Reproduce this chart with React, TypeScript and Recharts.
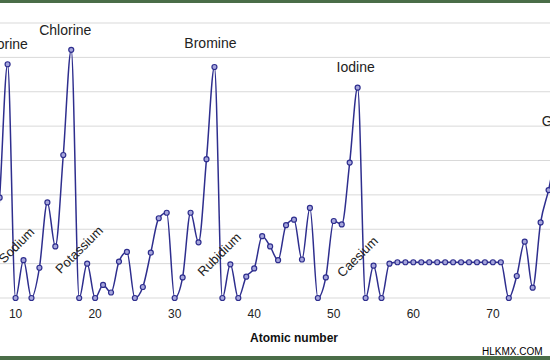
import { LineChart, Line, XAxis, YAxis, CartesianGrid, LabelList } from 'recharts';

// Electron affinity (eV) against atomic number
const ATOMIC_NUMBERS = [
    1, 2, 3, 4, 5, 6, 7, 8, 9, 10,
    11, 12, 13, 14, 15, 16, 17, 18, 19, 20,
    21, 22, 23, 24, 25, 26, 27, 28, 29, 30,
    31, 32, 33, 34, 35, 36, 37, 38, 39, 40,
    41, 42, 43, 44, 45, 46, 47, 48, 49, 50,
    51, 52, 53, 54, 55, 56, 57, 58, 59, 60,
    61, 62, 63, 64, 65, 66, 67, 68, 69, 70,
    71, 72, 73, 74, 75, 76, 77, 78, 79,
];

const AFFINITY = [
    0.75, 0, 0.62, 0, 0.28, 1.26, 0, 1.46, 3.4, 0,
    0.55, 0, 0.44, 1.39, 0.75, 2.08, 3.61, 0, 0.5, 0,
    0.19, 0.08, 0.53, 0.67, 0, 0.16, 0.66, 1.16, 1.24, 0,
    0.3, 1.24, 0.81, 2.02, 3.36, 0, 0.49, 0, 0.31, 0.43,
    0.9, 0.75, 0.55, 1.06, 1.14, 0.56, 1.31, 0, 0.3, 1.12,
    1.07, 1.97, 3.06, 0, 0.47, 0, 0.5, 0.52, 0.52, 0.52,
    0.52, 0.52, 0.52, 0.52, 0.52, 0.52, 0.52, 0.52, 0.52, 0.52,
    0.52, 0, 0.32, 0.82, 0.15, 1.1, 1.57, 2.13, 2.31,
];

const LABELLED = [
    { z: 9, name: 'Fluorine' },
    { z: 11, name: 'Sodium' },
    { z: 17, name: 'Chlorine' },
    { z: 19, name: 'Potassium' },
    { z: 35, name: 'Bromine' },
    { z: 37, name: 'Rubidium' },
    { z: 53, name: 'Iodine' },
    { z: 55, name: 'Caesium' },
    { z: 79, name: 'Gold' },
];

// only the ticks that fall inside the visible window
const X_TICKS = [10, 20, 30, 40, 50, 60, 70];
const Y_TICKS = [0, 0.5, 1, 1.5, 2, 2.5, 3, 3.5, 4];

// where each name sits relative to its point
const LABEL_POS: Record<string, { dx: number; dy: number; angle: number }> = {
    Fluorine: { dx: -5, dy: -20, angle: 0 },
    Chlorine: { dx: -6, dy: -20, angle: 0 },
    Bromine: { dx: -4, dy: -24, angle: 0 },
    Iodine: { dx: -2, dy: -21, angle: 0 },
    Gold: { dx: -8, dy: -18, angle: 0 },
    Sodium: { dx: -7, dy: -15, angle: -45 },
    Potassium: { dx: -8, dy: -14, angle: -45 },
    Rubidium: { dx: -11, dy: -10, angle: -45 },
    Caesium: { dx: -16, dy: -9, angle: -45 },
};

const FONT = "Arial, 'Liberation Sans', sans-serif";

const data = ATOMIC_NUMBERS.map((z, i) => ({
    z,
    ea: AFFINITY[i],
    name: LABELLED.find(l => l.z === z)?.name ?? '',
}));

function ElementLabel(props: any) {
    const { x, y, value } = props;
    if (!value) return null;
    const pos = LABEL_POS[value];
    const cx = x + pos.dx;
    const cy = y + pos.dy;
    return (
        <text
            x={cx}
            y={cy}
            textAnchor="middle"
            dominantBaseline="central"
            fontSize={pos.angle ? 13 : 14}
            fontFamily={FONT}
            fill="#222"
            transform={pos.angle ? `rotate(${pos.angle} ${cx} ${cy})` : undefined}
        >
            {value}
        </text>
    );
}

export default function App() {
    return (
        <div style={{ position: 'absolute', left: 0, top: 0, width: 550, height: 360, overflow: 'hidden', background: '#fff' }}>
            <div style={{ position: 'absolute', left: -64, top: 0 }}>
                <LineChart width={716} height={350} data={data} margin={{ top: 23, right: 0, left: 0, bottom: 8 }}>
                    <CartesianGrid vertical={false} stroke="#d9d9d9" />
                    <XAxis
                        dataKey="z"
                        type="number"
                        domain={[0, 90]}
                        ticks={X_TICKS}
                        tickLine={false}
                        axisLine={false}
                        tickMargin={5}
                        height={44}
                        tick={{ fontSize: 12, fill: '#222', fontFamily: FONT }}
                        label={{ value: 'Atomic number', position: 'insideBottom', offset: 0, fontSize: 12, fontWeight: 'bold', fill: '#111', fontFamily: FONT }}
                    />
                    <YAxis hide domain={[0, 4]} ticks={Y_TICKS} />
                    <Line
                        type="monotone"
                        dataKey="ea"
                        stroke="#2e2e8e"
                        strokeWidth={1.5}
                        dot={{ r: 2.5, stroke: '#2e2e8e', strokeWidth: 1.2, fill: '#a6a6dc' }}
                        isAnimationActive={false}
                    >
                        <LabelList dataKey="name" content={ElementLabel} />
                    </Line>
                </LineChart>
            </div>
            <div style={{ position: 'absolute', left: 0, top: 0, width: 550, height: 3, background: '#4a6d48' }} />
            <div style={{ position: 'absolute', left: 0, top: 356, width: 550, height: 4, background: '#4a6d48' }} />
            <div style={{ position: 'absolute', left: 482, top: 346, fontSize: 10, fontFamily: FONT, color: '#000' }}>HLKMX.COM</div>
        </div>
    );
}
